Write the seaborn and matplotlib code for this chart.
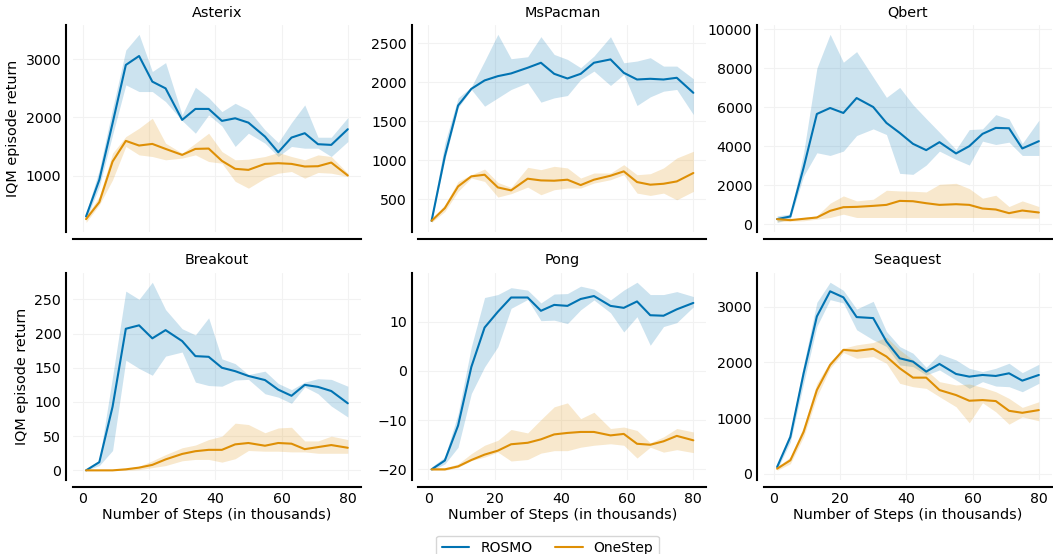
import numpy as np
import pandas as pd
import matplotlib
matplotlib.use("Agg")
import matplotlib.pyplot as plt
from matplotlib.ticker import MultipleLocator
import seaborn as sns

# ---------------- data ----------------
steps = [1, 5, 9, 13, 17, 21, 25, 30, 34, 38, 42, 46, 50, 55, 59, 63, 67, 71, 75, 80]

games = ["Asterix", "MsPacman", "Qbert", "Breakout", "Pong", "Seaquest"]
methods = ["ROSMO", "OneStep"]

asterix_rosmo = [295, 926, 1900, 2903, 3057, 2616, 2500, 1957, 2146, 2146, 1940, 1985, 1910, 1670, 1400, 1653, 1728, 1539, 1527, 1797]
asterix_rosmo_hi = [350, 1100, 2150, 3160, 3430, 2790, 2943, 2043, 2519, 2340, 2100, 2243, 2129, 1785, 1567, 1911, 2215, 1659, 1659, 1997]
asterix_rosmo_lo = [240, 810, 1700, 2560, 2445, 2445, 2272, 1945, 1728, 2043, 1854, 1500, 1728, 1556, 1327, 1500, 1470, 1470, 1327, 1585]
asterix_onestep = [249, 541, 1241, 1596, 1516, 1544, 1458, 1355, 1458, 1464, 1252, 1115, 1097, 1200, 1212, 1200, 1155, 1160, 1223, 1000]
asterix_onestep_hi = [295, 640, 1384, 1670, 1814, 1986, 1556, 1384, 1556, 1728, 1413, 1270, 1281, 1327, 1396, 1327, 1270, 1355, 1327, 1040]
asterix_onestep_lo = [192, 496, 925, 1500, 1355, 1327, 1270, 1300, 1355, 1241, 1212, 900, 782, 954, 1040, 1069, 954, 1052, 1040, 983]

mspacman_rosmo = [221, 1050, 1702, 1916, 2024, 2079, 2114, 2187, 2251, 2109, 2049, 2109, 2251, 2294, 2122, 2036, 2045, 2036, 2058, 1865]
mspacman_rosmo_hi = [277, 1221, 1800, 1942, 2273, 2616, 2303, 2328, 2586, 2358, 2294, 2187, 2337, 2586, 2251, 2273, 2316, 2208, 2208, 2045]
mspacman_rosmo_lo = [212, 1006, 1672, 1908, 1693, 1800, 1908, 1994, 1745, 1800, 1830, 2036, 2144, 1959, 2101, 1702, 1813, 1886, 1908, 1586]
mspacman_onestep = [221, 384, 663, 792, 813, 650, 612, 762, 740, 736, 749, 680, 749, 800, 856, 719, 685, 697, 727, 835]
mspacman_onestep_hi = [242, 427, 727, 813, 886, 714, 650, 908, 878, 921, 900, 770, 835, 835, 942, 813, 826, 900, 1028, 1114]
mspacman_onestep_lo = [200, 341, 599, 770, 727, 526, 569, 654, 556, 620, 642, 642, 706, 749, 813, 577, 547, 577, 491, 599]

qbert_rosmo = [255, 392, 2900, 5656, 5963, 5707, 6474, 6014, 5196, 4685, 4123, 3799, 4208, 3629, 4003, 4634, 4940, 4923, 3884, 4259]
qbert_rosmo_hi = [426, 511, 3663, 8007, 9745, 8313, 8858, 7547, 6508, 7019, 6133, 5417, 4719, 3833, 4855, 4889, 5622, 5400, 4140, 5332]
qbert_rosmo_lo = [85, 290, 2470, 3663, 3526, 3748, 4549, 4889, 4600, 2606, 2555, 3032, 3748, 3322, 3032, 4259, 4088, 4208, 3526, 3526]
qbert_onestep = [255, 204, 272, 340, 681, 869, 886, 937, 988, 1192, 1175, 1073, 988, 1022, 988, 800, 750, 562, 698, 596]
qbert_onestep_hi = [340, 255, 340, 426, 1073, 1448, 1192, 1277, 1738, 1704, 1687, 1652, 2044, 2095, 1823, 1329, 1482, 903, 1192, 903]
qbert_onestep_lo = [119, 153, 170, 255, 340, 511, 340, 340, 340, 340, 340, 340, 340, 340, 340, 340, 340, 340, 306, 306]

breakout_rosmo = [0, 12, 93, 207, 212, 193, 205, 189, 167, 166, 150, 145, 138, 132, 118, 109, 125, 122, 116, 98]
breakout_rosmo_hi = [1, 15, 137, 262, 250, 275, 235, 207, 198, 223, 163, 156, 140, 145, 127, 118, 129, 134, 133, 123]
breakout_rosmo_lo = [0, 7, 29, 161, 149, 139, 167, 173, 129, 124, 123, 132, 133, 112, 107, 98, 122, 112, 94, 78]
breakout_onestep = [0, 0, 0, 1.5, 4, 8, 16, 24, 28, 30, 30, 38, 40, 36, 40, 39, 31, 34, 37, 33]
breakout_onestep_hi = [0.5, 0.5, 0.5, 2.5, 6, 14, 23, 33, 37, 45, 50, 69, 67, 55, 62, 63, 43, 43, 50, 45]
breakout_onestep_lo = [0, 0, 0, 0, 1, 4, 7, 14, 16, 16, 12, 17, 29, 28, 28, 27, 27, 25, 25, 25]

pong_rosmo = [-20, -18.2, -11.1, 0.8, 8.8, 12.0, 14.9, 14.9, 12.2, 13.4, 13.2, 14.6, 15.2, 13.2, 12.8, 14.1, 11.3, 11.2, 12.5, 13.8]
pong_rosmo_hi = [-19.5, -17.5, -8.7, 4.9, 14.9, 15.5, 16.9, 16.4, 13.8, 15.6, 15.7, 17.2, 16.6, 14.4, 16.4, 18.0, 15.5, 15.5, 16.1, 15.1]
pong_rosmo_lo = [-20.2, -18.9, -15.5, -4.6, 0.8, 4.9, 12.7, 14.5, 10.2, 10.3, 9.6, 12.4, 14.4, 11.8, 7.9, 11.0, 5.2, 9.0, 9.8, 13.0]
pong_onestep = [-20, -20, -19.4, -18.1, -17.0, -16.2, -14.9, -14.6, -13.9, -12.9, -12.6, -12.4, -12.4, -13.1, -12.8, -14.8, -15.0, -14.3, -13.2, -14.1]
pong_onestep_hi = [-19.7, -19.7, -18.9, -16.8, -15.1, -14.1, -11.9, -12.6, -9.9, -7.3, -6.5, -9.7, -8.4, -11.7, -11.4, -12.1, -14.6, -13.4, -11.7, -12.4]
pong_onestep_lo = [-20.2, -20.2, -19.6, -18.2, -17.5, -16.5, -18.3, -18.0, -16.7, -16.2, -16.2, -15.5, -15.1, -14.8, -15.1, -17.7, -15.5, -16.5, -16.0, -16.6]

seaquest_rosmo = [120, 661, 1804, 2826, 3277, 3169, 2814, 2796, 2375, 2074, 2014, 1834, 1972, 1792, 1744, 1774, 1756, 1804, 1672, 1774]
seaquest_rosmo_hi = [150, 752, 1954, 3079, 3440, 3295, 2959, 3097, 2556, 2285, 2165, 1912, 2153, 2044, 1894, 1834, 1894, 1984, 1816, 1966]
seaquest_rosmo_lo = [72, 571, 1624, 2646, 3127, 3067, 2586, 2405, 2285, 1954, 1924, 1774, 1864, 1684, 1533, 1654, 1575, 1563, 1473, 1624]
seaquest_onestep = [90, 241, 752, 1503, 1954, 2225, 2207, 2243, 2105, 1894, 1726, 1726, 1503, 1413, 1311, 1323, 1305, 1130, 1094, 1143]
seaquest_onestep_hi = [120, 301, 842, 1624, 2014, 2255, 2315, 2357, 2453, 2225, 2044, 1864, 1654, 1594, 1612, 1551, 1473, 1353, 1191, 1293]
seaquest_onestep_lo = [60, 180, 661, 1383, 1894, 2177, 2074, 2105, 1984, 1624, 1563, 1533, 1383, 1203, 914, 1275, 1112, 890, 1022, 950]

ytick_steps = {"Asterix": 1000, "MsPacman": 500, "Qbert": 2000,
               "Breakout": 50, "Pong": 10, "Seaquest": 1000}

series = {
    "Asterix": {"ROSMO": (asterix_rosmo, asterix_rosmo_lo, asterix_rosmo_hi),
                "OneStep": (asterix_onestep, asterix_onestep_lo, asterix_onestep_hi)},
    "MsPacman": {"ROSMO": (mspacman_rosmo, mspacman_rosmo_lo, mspacman_rosmo_hi),
                 "OneStep": (mspacman_onestep, mspacman_onestep_lo, mspacman_onestep_hi)},
    "Qbert": {"ROSMO": (qbert_rosmo, qbert_rosmo_lo, qbert_rosmo_hi),
              "OneStep": (qbert_onestep, qbert_onestep_lo, qbert_onestep_hi)},
    "Breakout": {"ROSMO": (breakout_rosmo, breakout_rosmo_lo, breakout_rosmo_hi),
                 "OneStep": (breakout_onestep, breakout_onestep_lo, breakout_onestep_hi)},
    "Pong": {"ROSMO": (pong_rosmo, pong_rosmo_lo, pong_rosmo_hi),
             "OneStep": (pong_onestep, pong_onestep_lo, pong_onestep_hi)},
    "Seaquest": {"ROSMO": (seaquest_rosmo, seaquest_rosmo_lo, seaquest_rosmo_hi),
                 "OneStep": (seaquest_onestep, seaquest_onestep_lo, seaquest_onestep_hi)},
}

# ---------------- style ----------------
sns.set_theme(style="whitegrid", rc={
    "grid.color": "#f2f2f2",
    "grid.linewidth": 0.8,
    "axes.edgecolor": "black",
    "axes.linewidth": 1.5,
    "text.color": "black",
    "axes.labelcolor": "black",
    "xtick.color": "black",
    "ytick.color": "black",
    "font.size": 10,
    "axes.titlesize": 10.4,
    "axes.labelsize": 10.4,
    "xtick.labelsize": 10.2,
    "ytick.labelsize": 10.2,
    "legend.fontsize": 10,
})
plt.rcParams["font.family"] = ["DejaVu Sans"]

palette = sns.color_palette("colorblind")
colors = {"ROSMO": palette[0], "OneStep": palette[1]}

fig, axes = plt.subplots(2, 3, figsize=(10.53, 5.54), dpi=100, sharex=True)
fig.subplots_adjust(left=0.0693, right=0.999, top=0.955, bottom=0.134,
                    wspace=0.2, hspace=0.198)

for ax, game in zip(axes.flat, games):
    for m in methods:
        mean, lo, hi = series[game][m]
        df = pd.DataFrame({"step": steps, "value": mean})
        sns.lineplot(data=df, x="step", y="value", ax=ax, color=colors[m],
                     linewidth=1.5, label=m, legend=False)
        ax.fill_between(steps, lo, hi, color=colors[m], alpha=0.2, linewidth=0)
    ax.set_title(game)
    ax.yaxis.set_major_locator(MultipleLocator(ytick_steps[game]))
    ax.xaxis.set_major_locator(MultipleLocator(20))
    ax.set_xlabel("")
    ax.set_ylabel("")
    ax.tick_params(length=0, pad=3.5)
    sns.despine(ax=ax, offset=5)

for ax in axes[1]:
    ax.set_xlabel("Number of Steps (in thousands)", labelpad=1.5)
for ax in axes[:, 0]:
    ax.set_ylabel("IQM episode return")

handles, labels = axes[0, 0].get_legend_handles_labels()
fig.legend(handles, labels, loc="upper center", bbox_to_anchor=(0.52, 0.033),
           ncol=2, frameon=True, handlelength=2, columnspacing=1.6,
           borderaxespad=0)

fig.savefig("out.png", dpi=100)
